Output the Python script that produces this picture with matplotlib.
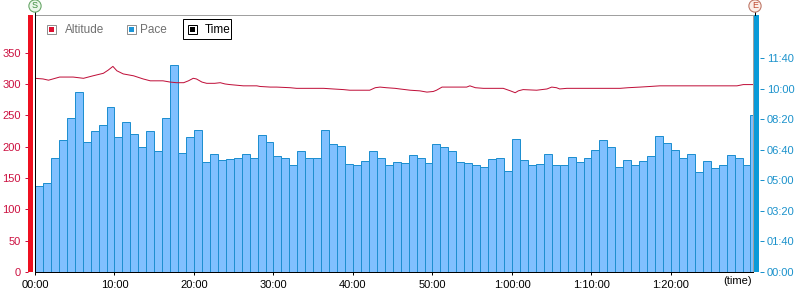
import numpy as np
import matplotlib
matplotlib.use("Agg")
from matplotlib import pyplot as plt
from matplotlib.patches import Rectangle
from matplotlib.lines import Line2D
from matplotlib.ticker import FuncFormatter

plt.rcParams['font.family'] = ['Liberation Sans', 'DejaVu Sans']

# pace of each one-minute split, seconds per km (last split is partial)
pace = [283, 293, 373, 433, 506, 590, 426, 463, 482, 541,
        441, 492, 453, 410, 463, 398, 506, 677, 390, 441,
        465, 361, 387, 367, 371, 373, 387, 373, 449, 426,
        381, 373, 349, 398, 373, 373, 465, 420, 414, 355,
        351, 365, 398, 373, 351, 361, 357, 383, 373, 357,
        420, 410, 398, 361, 357, 349, 344, 371, 373, 332,
        437, 367, 349, 355, 387, 351, 351, 377, 361, 373,
        400, 431, 410, 344, 367, 351, 365, 381, 447, 424,
        400, 373, 387, 328, 365, 340, 351, 383, 373, 349,
        515]
split_len = 60
total_time = 5419  # seconds

# altitude profile (minutes, metres)
alt_min = [0.0, 1.0, 1.7, 3.1, 4.8, 6.1, 7.3, 8.6, 9.2, 9.8,
           10.3, 11.1, 12.4, 13.6, 14.5, 16.1, 17.0, 17.8, 18.7, 19.3,
           19.9, 20.3, 21.0, 21.6, 22.6, 23.3, 23.9, 24.5, 26.2, 27.9,
           28.3, 29.6, 30.4, 32.1, 32.9, 34.6, 36.3, 37.5, 38.8, 39.6,
           40.9, 42.1, 42.8, 43.4, 44.2, 45.3, 45.9, 47.2, 48.4, 49.3,
           50.1, 50.5, 51.2, 53.0, 54.3, 54.7, 55.4, 56.4, 58.9, 59.8,
           60.4, 60.8, 61.4, 63.1, 64.4, 65.0, 65.6, 66.0, 66.9, 67.9,
           70.7, 73.6, 74.6, 76.1, 77.4, 78.6, 81.1, 84.1, 85.8, 88.3,
           89.1, 90.3]
alt_m = [309, 308, 306, 311, 311, 309, 313, 317, 322, 328,
         321, 316, 313, 308, 305, 305, 303, 302, 302, 305,
         309, 308, 303, 301, 301, 302, 300, 299, 297, 297,
         296, 295, 295, 294, 293, 293, 293, 292, 291, 290,
         290, 290, 294, 295, 294, 293, 292, 290, 289, 287,
         288, 290, 295, 295, 295, 297, 294, 293, 293, 289,
         286, 289, 291, 290, 292, 295, 294, 292, 293, 293,
         293, 293, 294, 295, 296, 297, 297, 297, 297, 297,
         299, 299]

W, H = 797, 292
PX = 0.72  # points per pixel at dpi 100


def fx(px):
    return px / W


def fy(py):
    return 1 - py / H


red_lbl = '#cc1040'
blue_lbl = '#1b92cc'

fig = plt.figure(figsize=(W / 100, H / 100), dpi=100)
ax = fig.add_axes([fx(35), fy(272), (753 - 35) / W, (272 - 15) / H])
ax2 = ax.twinx()

# pace bars on the right-hand axis
starts = np.arange(len(pace)) * split_len
widths = np.minimum(split_len, total_time - starts)
ax2.bar(starts, pace, width=widths, align='edge', color='#80c0ff',
        edgecolor='#1e8fd0', linewidth=1.0 * PX)

# altitude on the left-hand axis, drawn over the bars
ax.plot(np.array(alt_min) * 60, alt_m, color='#c0103a', lw=1.0 * PX)
ax.set_zorder(ax2.get_zorder() + 1)
ax.patch.set_visible(False)

ax.set_xlim(0, total_time)
ax.set_ylim(0, 410)
ax2.set_ylim(0, 842)

for a in (ax, ax2):
    for s in a.spines.values():
        s.set_visible(False)
ax.spines['left'].set_position(('outward', 7 * PX))
ax2.spines['right'].set_position(('outward', 7 * PX))

ax.set_yticks(np.arange(0, 351, 50))
ax.tick_params(axis='y', direction='out', length=3 * PX, width=PX,
               color=red_lbl, labelcolor=red_lbl, labelsize=8, pad=4 * PX)

ax2.set_yticks(np.arange(0, 701, 100))
ax2.yaxis.set_major_formatter(FuncFormatter(lambda v, p: f"{int(v) // 60:02d}:{int(v) % 60:02d}"))
ax2.tick_params(axis='y', direction='out', length=4 * PX, width=PX,
                color=blue_lbl, labelcolor=blue_lbl, labelsize=8, pad=3 * PX)


def fmt_time(v, p):
    v = int(round(v))
    h, m, s = v // 3600, (v % 3600) // 60, v % 60
    if h:
        return f"{h}:{m:02d}:{s:02d}"
    return f"{m:02d}:{s:02d}"


ax.set_xticks(np.arange(0, 5000, 600))
ax.xaxis.set_major_formatter(FuncFormatter(fmt_time))
ax.tick_params(axis='x', direction='out', length=3 * PX, width=PX,
               color='black', labelcolor='black', labelsize=8, pad=5 * PX)

# side colour bars and frame
fig.add_artist(Rectangle((fx(28), fy(272)), 5 / W, 257 / H, transform=fig.transFigure,
                         color='#ee1020', lw=0))
fig.add_artist(Rectangle((fx(753), fy(272)), 6 / W, 257 / H, transform=fig.transFigure,
                         color='#0a9ad8', lw=0))
frame = [((35, 753), (15, 15), '#a0a0a0'),
         ((752.5, 752.5), (15, 272), '#a0a0a0'),
         ((35, 35), (11, 272.5), 'black'),
         ((755, 755), (11, 15), 'black'),
         ((35, 753), (272, 272), 'black')]
for xs, ys, c in frame:
    fig.add_artist(Line2D([fx(xs[0]), fx(xs[1])], [fy(ys[0]), fy(ys[1])],
                          transform=fig.transFigure, color=c, lw=1.0 * PX))

fig.text(fx(752), fy(281), "(time)", ha='right', va='center', fontsize=8)

# start / end markers
fig.text(fx(35), fy(6), "S", ha='center', va='center', fontsize=6.5, color='#3a8a3a',
         bbox=dict(boxstyle='circle,pad=0.18', fc='#eaf6ea', ec='#6aa86a', lw=0.8))
fig.text(fx(755), fy(6), "E", ha='center', va='center', fontsize=6.5, color='#c04a30',
         bbox=dict(boxstyle='circle,pad=0.18', fc='#fbeee8', ec='#c07a6a', lw=0.8))

# legend
legend_items = [("Altitude", '#dd1030', 47, 65, '#707070', '#909090'),
                ("Pace", '#1c95d8', 127, 140, '#707070', '#909090'),
                ("Time", 'black', 188, 205, 'black', 'black')]
fig.add_artist(Rectangle((fx(183), fy(39)), 48 / W, 20 / H, transform=fig.transFigure,
                         fc='white', ec='black', lw=1.0 * PX))
for name, col, ix, tx, tcol, ecol in legend_items:
    fig.add_artist(Rectangle((fx(ix), fy(34)), 9 / W, 9 / H, transform=fig.transFigure,
                             fc='white', ec=ecol, lw=1.0 * PX))
    fig.add_artist(Rectangle((fx(ix + 2), fy(32)), 5 / W, 5 / H, transform=fig.transFigure,
                             fc=col, ec='none'))
    fig.text(fx(tx), fy(30), name, ha='left', va='center', fontsize=8.5, color=tcol)

fig.savefig("out.png", dpi=100)
